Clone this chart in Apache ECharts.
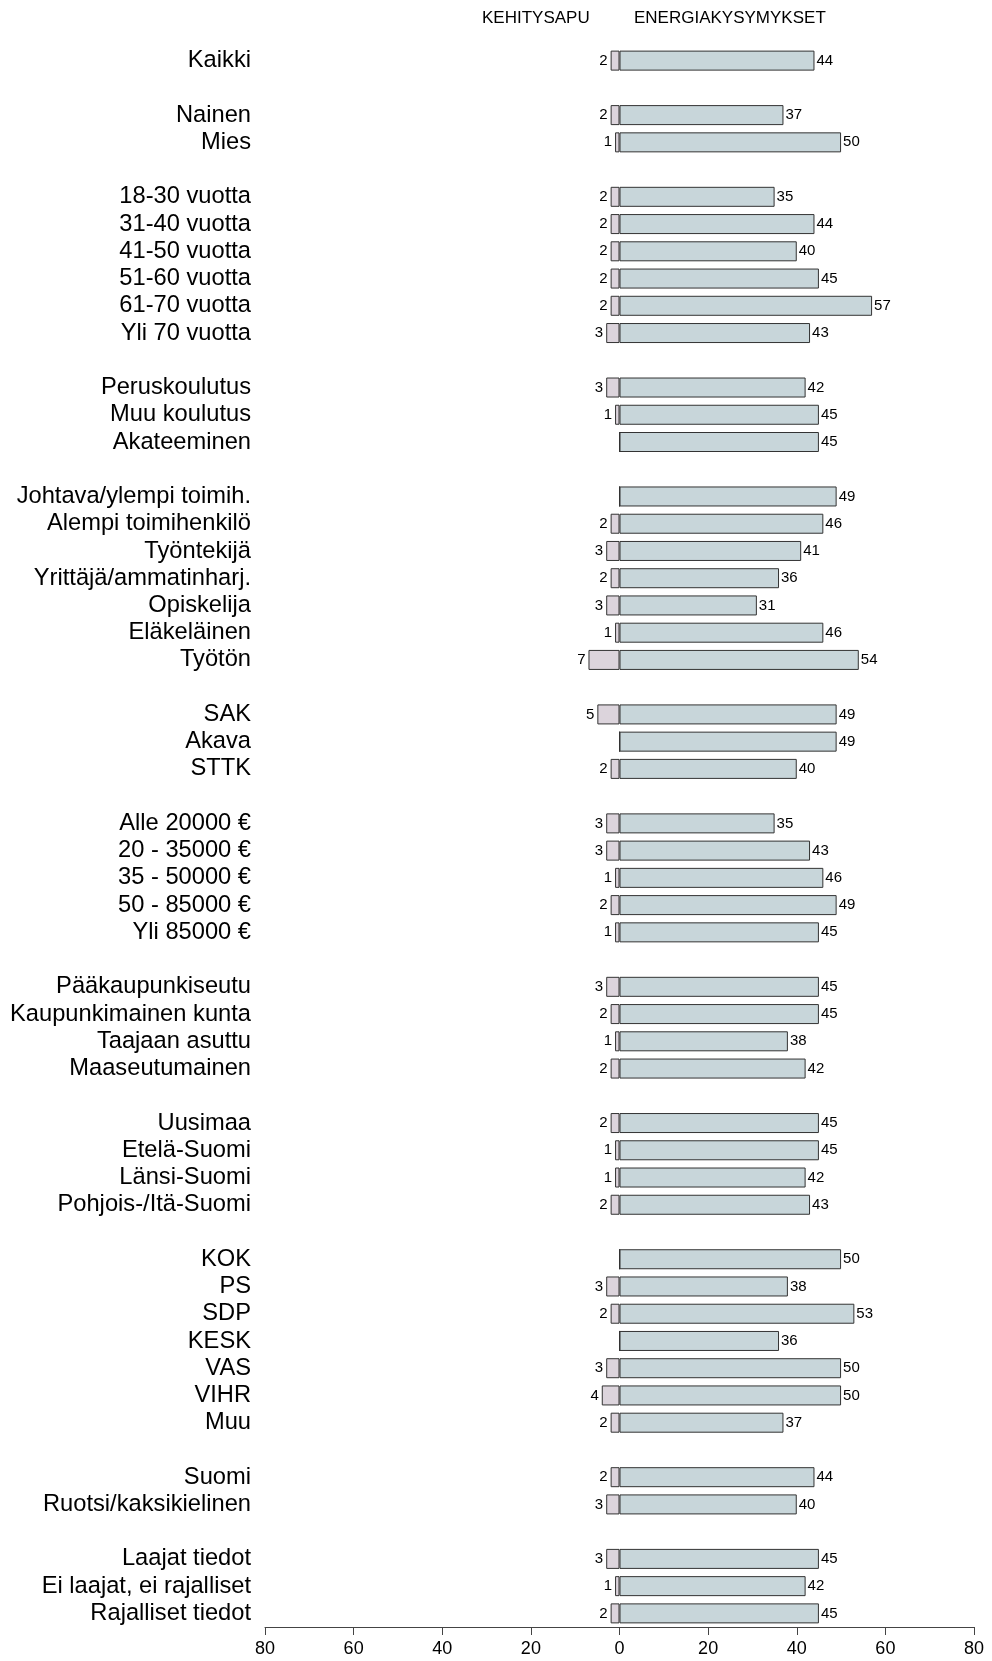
<!DOCTYPE html>
<html>
<head>
<meta charset="utf-8">
<script src="https://cdn.jsdelivr.net/npm/echarts@6/dist/echarts.min.js"></script>
<style>
html,body{margin:0;padding:0;background:#fff;}
#chart{width:992px;height:1661px;}
</style>
</head>
<body>
<div id="chart"></div>
<script>
const categories = [
  'Kaikki', '',
  'Nainen', 'Mies', '',
  '18-30 vuotta', '31-40 vuotta', '41-50 vuotta', '51-60 vuotta', '61-70 vuotta', 'Yli 70 vuotta', '',
  'Peruskoulutus', 'Muu koulutus', 'Akateeminen', '',
  'Johtava/ylempi toimih.', 'Alempi toimihenkilö', 'Työntekijä', 'Yrittäjä/ammatinharj.', 'Opiskelija', 'Eläkeläinen', 'Työtön', '',
  'SAK', 'Akava', 'STTK', '',
  'Alle 20000 €', '20 - 35000 €', '35 - 50000 €', '50 - 85000 €', 'Yli 85000 €', '',
  'Pääkaupunkiseutu', 'Kaupunkimainen kunta', 'Taajaan asuttu', 'Maaseutumainen', '',
  'Uusimaa', 'Etelä-Suomi', 'Länsi-Suomi', 'Pohjois-/Itä-Suomi', '',
  'KOK', 'PS', 'SDP', 'KESK', 'VAS', 'VIHR', 'Muu', '',
  'Suomi', 'Ruotsi/kaksikielinen', '',
  'Laajat tiedot', 'Ei laajat, ei rajalliset', 'Rajalliset tiedot'
];
const kehitysapu = [
  2, null,
  2, 1, null,
  2, 2, 2, 2, 2, 3, null,
  3, 1, 0, null,
  0, 2, 3, 2, 3, 1, 7, null,
  5, 0, 2, null,
  3, 3, 1, 2, 1, null,
  3, 2, 1, 2, null,
  2, 1, 1, 2, null,
  0, 3, 2, 0, 3, 4, 2, null,
  2, 3, null,
  3, 1, 2
];
const energiakysymykset = [
  44, null,
  37, 50, null,
  35, 44, 40, 45, 57, 43, null,
  42, 45, 45, null,
  49, 46, 41, 36, 31, 46, 54, null,
  49, 49, 40, null,
  35, 43, 46, 49, 45, null,
  45, 45, 38, 42, null,
  45, 45, 42, 43, null,
  50, 38, 53, 36, 50, 50, 37, null,
  44, 40, null,
  45, 42, 45
];
const seriesNames = ['KEHITYSAPU', 'ENERGIAKYSYMYKSET'];
const xTicks = { min: -80, max: 80, interval: 20 };

const FONT = '"Liberation Sans", Arial, sans-serif';
const chart = echarts.init(document.getElementById('chart'), null, { renderer: 'canvas' });

const option = {
  animation: false,
  backgroundColor: '#ffffff',
  textStyle: { fontFamily: FONT },
  grid: { left: 265, right: 18, top: 47, bottom: 34, containLabel: false },
  graphic: [
    { type: 'text', left: 482, top: 10, style: { text: seriesNames[0], font: '17px ' + FONT, fill: '#000' } },
    { type: 'text', left: 634, top: 10, style: { text: seriesNames[1], font: '17px ' + FONT, fill: '#000' } }
  ],
  xAxis: {
    type: 'value',
    min: xTicks.min, max: xTicks.max, interval: xTicks.interval,
    position: 'bottom',
    axisLine: { show: true, onZero: false, lineStyle: { color: '#444', width: 1 } },
    axisTick: { show: true, inside: false, length: 8, lineStyle: { color: '#444' } },
    splitLine: { show: false },
    axisLabel: {
      fontSize: 18, color: '#000', fontFamily: FONT, margin: 13,
      formatter: v => String(Math.abs(v))
    }
  },
  yAxis: {
    type: 'category',
    data: categories,
    inverse: true,
    axisLine: { show: false },
    axisTick: { show: false },
    splitLine: { show: false },
    axisLabel: { interval: 0, fontSize: 23.7, color: '#000', fontFamily: FONT, margin: 14 }
  },
  series: [
    {
      name: seriesNames[0],
      type: 'bar',
      stack: 'total',
      barWidth: 20,
      data: kehitysapu.map(v => (v === null ? null : -v)),
      itemStyle: { color: '#DCD4DC', borderColor: '#333', borderWidth: 1 },
      label: {
        show: true, position: 'left', distance: 3, fontSize: 15, color: '#000', fontFamily: FONT,
        formatter: p => (p.value ? String(Math.abs(p.value)) : '')
      }
    },
    {
      name: seriesNames[1],
      type: 'bar',
      stack: 'total',
      barWidth: 20,
      data: energiakysymykset,
      itemStyle: { color: '#C8D6DA', borderColor: '#333', borderWidth: 1 },
      label: {
        show: true, position: 'right', distance: 2, fontSize: 15, color: '#000', fontFamily: FONT,
        formatter: p => (p.value ? String(p.value) : '')
      }
    }
  ]
};
chart.setOption(option);
</script>
</body>
</html>
